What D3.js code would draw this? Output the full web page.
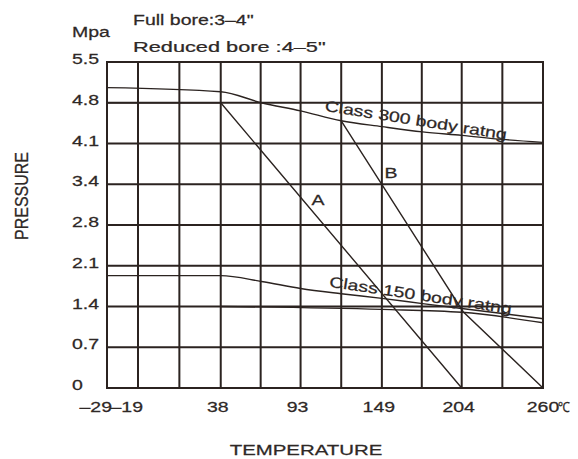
<!DOCTYPE html>
<html>
<head>
<meta charset="utf-8">
<script src="https://cdn.jsdelivr.net/npm/d3@7"></script>
<style>
  body { margin: 0; background: #fff; }
  svg { display: block; font-family: "Liberation Sans", Arial, sans-serif; }
  .grid line { stroke: #2b2320; stroke-width: 2; }
  .curve { fill: none; stroke: #2b2320; stroke-width: 1.4; }
  text { fill: #2e2826; font-size: 15px; stroke: #2e2826; stroke-width: 0.25; }
</style>
</head>
<body>
<svg id="chart" width="578" height="459"></svg>
<script>
// temperature (°C) vs pressure (MPa)
const pressureTicks = [0, 0.7, 1.4, 2.1, 2.8, 3.4, 4.1, 4.8, 5.5];
const gridTemps = [-29, -19, 9.5, 38, 65.5, 93, 121, 149, 176.5, 204, 232, 260];
const tempTicks = [38, 93, 149, 204];

const class300 = [[-29, 5.06], [38, 4.99], [66, 4.8], [93, 4.66], [121, 4.49], [149, 4.39], [177, 4.30], [204, 4.24], [232, 4.17], [260, 4.12]];
const class150 = [[-29, 1.93], [38, 1.93], [66, 1.83], [93, 1.71], [121, 1.62], [149, 1.54], [177, 1.45], [204, 1.365], [232, 1.28], [260, 1.19]];
const lowerLine = [[38, 1.4], [149, 1.35], [204, 1.3], [260, 1.12]];
const lineA = [[-29, 4.8], [38, 4.8], [204, 0]];
const lineB = [[121, 4.49], [205, 1.31], [260, 0]];

const svg = d3.select('#chart');
const sx = 1.3; // the lettering in the scan is wide

const plotLeft = 107, plotRight = 543, plotTop = 62, plotBottom = 388;

// -29..-19 gets a short cell, the rest is even
let x = d3.scaleLinear().domain([-29, -19, 260]).range([plotLeft, 138, plotRight]);
// the y ticks sit on an even grid even though the numbers aren't
let y = d3.scaleLinear().domain(pressureTicks)
    .range(pressureTicks.map((d, i)=> plotBottom - i * (plotBottom - plotTop) / (pressureTicks.length - 1)));

function label(g, str, px, py, anchor, rot, stretch){
    let t = g.append('text').text(str).attr('text-anchor', anchor || 'start');
    let s = stretch || [sx, 1];
    t.attr('transform', 'translate(' + px + ',' + py + ')' + (rot ? ' rotate(' + rot + ')' : '') + ' scale(' + s[0] + ',' + s[1] + ')');
    return t;
}

/////Grid/////
let grid = svg.append('g').classed('grid', true);
grid.selectAll('.h').data(pressureTicks).enter().append('line').classed('h', true)
    .attr('x1', plotLeft - 1).attr('x2', plotRight + 1)
    .attr('y1', d=> y(d)).attr('y2', d=> y(d));
grid.selectAll('.v').data(gridTemps).enter().append('line').classed('v', true)
    .attr('x1', d=> x(d)).attr('x2', d=> x(d))
    .attr('y1', plotTop).attr('y2', plotBottom);

/////Curves/////
let smooth = d3.line().x(d=> x(d[0])).y(d=> y(d[1])).curve(d3.curveMonotoneX);
let straight = d3.line().x(d=> x(d[0])).y(d=> y(d[1]));

svg.append('path').attr('class', 'curve').attr('d', smooth(class300));
svg.append('path').attr('class', 'curve').attr('d', smooth(class150));
svg.append('path').attr('class', 'curve').attr('d', smooth(lowerLine));
svg.append('path').attr('class', 'curve').attr('d', straight(lineA));
svg.append('path').attr('class', 'curve').attr('d', straight(lineB));

/////Labels/////
let labels = svg.append('g');

pressureTicks.forEach(p=> label(labels, p, 72, y(p) + 2));

tempTicks.forEach(t=> label(labels, t, x(t) - 3, plotBottom + 24, 'middle'));
label(labels, '–29', x(-29) + 5, plotBottom + 24, 'end');
label(labels, '–19', x(-19) + 5, plotBottom + 24, 'end');
label(labels, '260', x(260), plotBottom + 24, 'middle');
label(labels, '℃', x(260) + 15, plotBottom + 24, 'start', 0, [0.85, 1]).style('font-size', '14px');

label(labels, 'Mpa', 72, 37);
label(labels, 'Full bore:3–4"', 133, 25);
label(labels, 'Reduced bore :4–5"', 133, 52, 'start', 0, [1.45, 1]);

label(labels, 'TEMPERATURE', 306, 455, 'middle', 0, [1.36, 1]);
label(labels, 'PRESSURE', 28, 196, 'middle', -90, [1, 1.1]).style('font-size', '16px');

label(labels, 'Class 300 body ratng', x(121) - 17, y(4.49) - 10, 'start', 9);
label(labels, 'Class 150 body ratng', x(149) - 53, y(1.62) - 7, 'start', 8.5);
label(labels, 'A', 318, 205, 'middle');
label(labels, 'B', 391, 178, 'middle');
</script>
</body>
</html>
